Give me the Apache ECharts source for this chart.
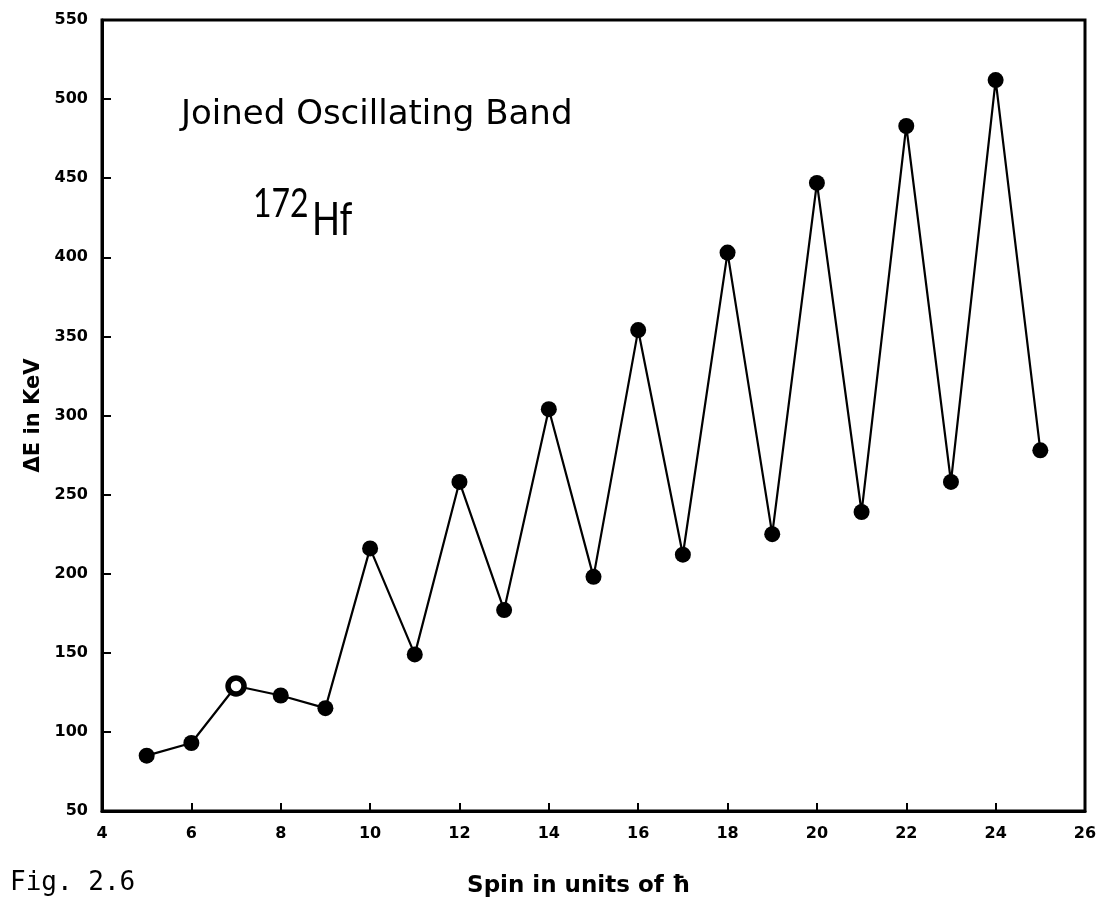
<!DOCTYPE html>
<html>
<head>
<meta charset="utf-8">
<script src="https://cdn.jsdelivr.net/npm/echarts@6/dist/echarts.min.js"></script>
<style>
  html, body { margin: 0; padding: 0; background: #fff; }
  #chart { width: 1102px; height: 913px; }
</style>
</head>
<body>
<div id="chart"></div>
<script>
// Level spin (in units of h-bar) for the joined oscillating band of 172Hf
const spins = [5, 6, 7, 8, 9, 10, 11, 12, 13, 14, 15, 16, 17, 18, 19, 20, 21, 22, 23, 24, 25];
// Transition energy difference ΔE (keV) at each spin
const deltaE = [85, 93, 129, 123, 115, 216, 149, 258, 177, 304, 198, 354, 212, 403, 225, 447, 239, 483, 258, 512, 278];
// Spins plotted with an open marker
const openSpins = [7];

const xTicks = [4, 6, 8, 10, 12, 14, 16, 18, 20, 22, 24, 26];
const yTicks = [50, 100, 150, 200, 250, 300, 350, 400, 450, 500, 550];

const seriesData = spins.map((s, i) => {
  const item = { value: [s, deltaE[i]] };
  if (openSpins.includes(s)) {
    item.itemStyle = { color: '#fff', borderColor: '#000', borderWidth: 5.5 };
  }
  return item;
});

const tickFont = { fontFamily: 'DejaVu Sans', fontWeight: 'bold', fontSize: 16, color: '#000' };

const chart = echarts.init(document.getElementById('chart'), null, { renderer: 'canvas' });
chart.setOption({
  backgroundColor: '#fff',
  animation: false,
  grid: {
    left: 102, top: 20, right: 17, bottom: 102,
    show: true, borderColor: '#000', borderWidth: 3, backgroundColor: 'transparent'
  },
  xAxis: {
    type: 'value',
    min: xTicks[0], max: xTicks[xTicks.length - 1], interval: 2,
    axisLine: { show: true, onZero: false, lineStyle: { color: '#000', width: 3 } },
    axisTick: { show: true, inside: true, length: 8, lineStyle: { color: '#000', width: 2 } },
    splitLine: { show: false },
    axisLabel: Object.assign({ margin: 15 }, tickFont),
    name: 'Spin in units of ħ',
    nameLocation: 'middle',
    nameGap: 64,
    nameTextStyle: { fontFamily: 'DejaVu Sans', fontWeight: 'bold', fontSize: 23, color: '#000', padding: [0, 30, 0, 0] }
  },
  yAxis: {
    type: 'value',
    min: yTicks[0], max: yTicks[yTicks.length - 1], interval: 50,
    axisLine: { show: true, onZero: false, lineStyle: { color: '#000', width: 3 } },
    axisTick: { show: true, inside: true, length: 9, lineStyle: { color: '#000', width: 2 } },
    splitLine: { show: false },
    axisLabel: Object.assign({ margin: 14 }, tickFont),
    name: 'ΔE in KeV',
    nameLocation: 'middle',
    nameGap: 55,
    nameTextStyle: { fontFamily: 'DejaVu Sans', fontWeight: 'bold', fontSize: 21, color: '#000' }
  },
  series: [{
    type: 'line',
    data: seriesData,
    symbol: 'circle',
    symbolSize: 16,
    lineStyle: { color: '#000', width: 2.2 },
    itemStyle: { color: '#000' },
    emphasis: { disabled: true }
  }],
  graphic: [
    {
      type: 'text', left: 181, top: 98,
      style: { text: 'Joined Oscillating Band', fontFamily: 'DejaVu Sans', fontSize: 34, fill: '#000' }
    },
    {
      type: 'text', x: 253, y: 184, scaleX: 0.8,
      style: { text: '172', fontFamily: 'Lato', fontSize: 40, fill: '#000' }
    },
    {
      type: 'text', x: 312, y: 197, scaleX: 0.8,
      style: { text: 'Hf', fontFamily: 'Lato', fontSize: 46, fill: '#000' }
    },
    {
      type: 'text', left: 10, top: 870,
      style: { text: 'Fig. 2.6', fontFamily: 'DejaVu Sans Mono', fontSize: 26, fill: '#000' }
    }
  ]
});
</script>
</body>
</html>
